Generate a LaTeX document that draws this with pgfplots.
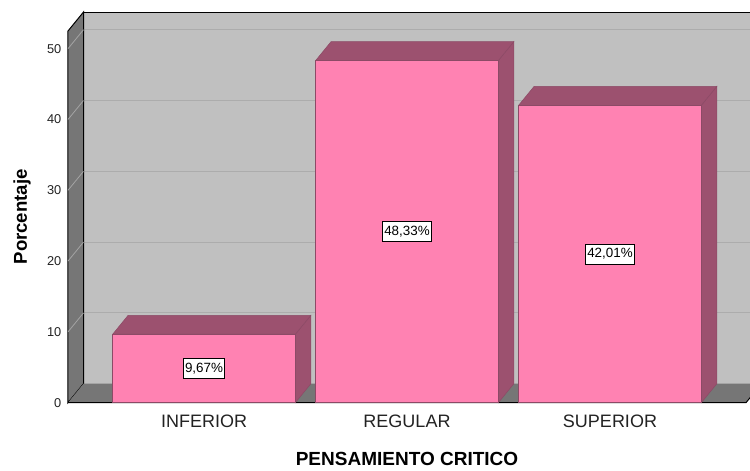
\documentclass[border=0pt]{standalone}
\usepackage{pgfplots}
\pgfplotsset{compat=1.18}
\usepackage{fontspec}
\setmainfont{Liberation Sans}

\definecolor{backwall}{HTML}{C0C0C0}
\definecolor{sidewall}{HTML}{767676}
\definecolor{gridc}{HTML}{ACACAC}
\definecolor{sidegrid}{HTML}{A4A4A4}
\definecolor{barfront}{HTML}{FF82B2}
\definecolor{barside}{HTML}{9C516F}
\definecolor{baredge}{HTML}{8C4A66}
\definecolor{txt}{HTML}{222222}

\newcommand{\dX}{0.0764}
\newcommand{\dY}{2.68}
\newcommand{\hw}{0.45}

% 3D side and top faces of a bar: #1 = position, #2 = value
\newcommand{\barfaces}[2]{%
  \pgfmathsetmacro{\xr}{#1+\hw}%
  \pgfmathsetmacro{\xl}{#1-\hw}%
  \pgfmathsetmacro{\xrb}{#1+\hw+\dX}%
  \pgfmathsetmacro{\xlb}{#1-\hw+\dX}%
  \pgfmathsetmacro{\vt}{#2+\dY}%
  \addplot[fill=barside, draw=baredge, line width=0.5pt] coordinates {(\xr,0) (\xr,#2) (\xrb,\vt) (\xrb,\dY)} -- cycle;
  \addplot[fill=barside, draw=baredge, line width=0.5pt] coordinates {(\xl,#2) (\xr,#2) (\xrb,\vt) (\xlb,\vt)} -- cycle;
}
% data label in middle of bar: #1 = position, #2 = value, #3 = text
\newcommand{\barlabel}[3]{%
  \pgfmathsetmacro{\vm}{#2/2}%
  \edef\tmp{\noexpand\node[draw=black, fill=white, inner xsep=1.5pt, inner ysep=0pt,
    minimum height=20pt, line width=0.6pt,
    font=\noexpand\fontsize{13.4}{14}\noexpand\selectfont] at (axis cs:#1,\vm) {\unexpanded{#3}};}%
  \tmp
}

\begin{document}
\begin{tikzpicture}
\begin{axis}[
  at={(68pt,68.3pt)}, anchor=south west,
  scale only axis, width=678pt, height=371.7pt,
  xmin=-0.67, xmax=2.67, ymin=0, ymax=52.5,
  clip=false,
  axis line style={draw=none},
  xtick={0,1,2}, xticklabels={INFERIOR,REGULAR,SUPERIOR},
  x tick style={draw=none},
  ytick={0,10,20,30,40,50},
  y tick style={draw=none},
  /pgf/number format/assume math mode=true,
  xticklabel style={font=\fontsize{18}{18}\selectfont, text=txt, anchor=center, yshift=-19pt},
  yticklabel style={font=\fontsize{12.8}{13}\selectfont, text=txt, inner sep=0pt, anchor=east, xshift=-6.5pt},
  xlabel={PENSAMIENTO CRITICO},
  ylabel={Porcentaje},
  xlabel style={at={([yshift=-56.3pt]axis description cs:0.5,0)}, anchor=center,
    font=\bfseries\fontsize{19}{19}\selectfont},
  ylabel style={at={([xshift=-46pt]axis description cs:0,0.5)}, anchor=center,
    font=\bfseries\fontsize{18.6}{19}\selectfont},
]
% back wall
\addplot[fill=backwall, draw=none] coordinates {(-0.5936,2.68) (2.7464,2.68) (2.7464,55.18) (-0.5936,55.18)} -- cycle;
% back wall grid lines
\addplot[gridc, line width=1pt] coordinates {(-0.5936,12.68) (2.7464,12.68)};
\addplot[gridc, line width=1pt] coordinates {(-0.5936,22.68) (2.7464,22.68)};
\addplot[gridc, line width=1pt] coordinates {(-0.5936,32.68) (2.7464,32.68)};
\addplot[gridc, line width=1pt] coordinates {(-0.5936,42.68) (2.7464,42.68)};
\addplot[gridc, line width=1pt] coordinates {(-0.5936,52.68) (2.7464,52.68)};
% back wall top and left edges
\addplot[black, line width=1pt] coordinates {(-0.5936,2.68) (-0.5936,55.18) (2.7464,55.18)};
% left wall
\addplot[fill=sidewall, draw=black, line width=1pt] coordinates {(-0.67,0) (-0.67,52.5) (-0.5936,55.18) (-0.5936,2.68)} -- cycle;
\addplot[sidegrid, line width=0.8pt] coordinates {(-0.67,10) (-0.5936,12.68)};
\addplot[sidegrid, line width=0.8pt] coordinates {(-0.67,20) (-0.5936,22.68)};
\addplot[sidegrid, line width=0.8pt] coordinates {(-0.67,30) (-0.5936,32.68)};
\addplot[sidegrid, line width=0.8pt] coordinates {(-0.67,40) (-0.5936,42.68)};
\addplot[sidegrid, line width=0.8pt] coordinates {(-0.67,50) (-0.5936,52.68)};
% floor
\addplot[fill=sidewall, draw=none] coordinates {(-0.67,0) (2.67,0) (2.7464,2.68) (-0.5936,2.68)} -- cycle;
\addplot[black, line width=1pt] coordinates {(-0.67,0) (2.67,0) (2.7464,2.68)};
% bars: 3D faces
\barfaces{0}{9.67}
\barfaces{1}{48.33}
\barfaces{2}{42.01}
% bars: front faces
\addplot[ybar, bar width=0.9, fill=barfront, draw=baredge, line width=0.5pt]
  coordinates {(0,9.67) (1,48.33) (2,42.01)};
\barlabel{0}{9.67}{9,67\%}
\barlabel{1}{48.33}{48,33\%}
\barlabel{2}{42.01}{42,01\%}
\end{axis}
\pgfresetboundingbox
\path[use as bounding box] (0,0) rectangle (750pt,471pt);
\end{tikzpicture}
\end{document}
